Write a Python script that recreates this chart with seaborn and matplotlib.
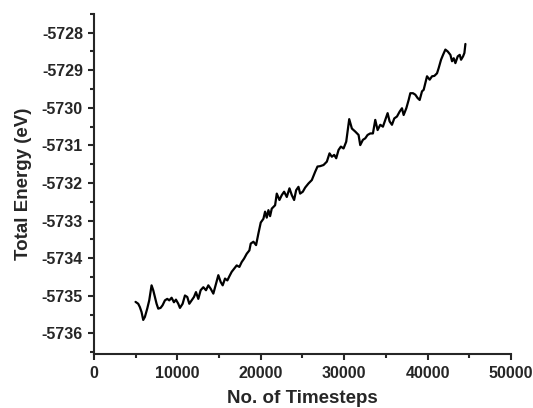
import numpy as np
import pandas as pd
import seaborn as sns
import matplotlib.pyplot as plt
from matplotlib.ticker import MultipleLocator

# values
timesteps = [
    5000, 5320, 5520, 5720, 5920, 6120, 6400, 6640, 6920, 7120,
    7320, 7520, 7720, 8000, 8240, 8520, 8800, 9040, 9320, 9600,
    9840, 10120, 10320, 10640, 10920, 11200, 11440, 11720, 12000, 12240,
    12520, 12800, 13120, 13440, 13720, 14000, 14320, 14640, 14920, 15200,
    15440, 15720, 16000, 16240, 16520, 16800, 17120, 17440, 17720, 18000,
    18320, 18640, 18800, 19120, 19440, 19720, 20000, 20320, 20520, 20720,
    20920, 21120, 21320, 21720, 21920, 22240, 22520, 22800, 23120, 23440,
    23720, 24000, 24240, 24520, 24720, 25040, 25320, 25720, 26120, 26520,
    26800, 27120, 27520, 27920, 28240, 28520, 28800, 29040, 29320, 29600,
    29920, 30240, 30600, 30920, 31320, 31720, 31920, 32240, 32520, 32800,
    33120, 33440, 33720, 34000, 34320, 34640, 34920, 35200, 35440, 35720,
    36000, 36320, 36640, 36920, 37120, 37440, 37720, 37920, 38240, 38520,
    38800, 39040, 39320, 39520, 39720, 39920, 40240, 40520, 40800, 41120,
    41320, 41600, 41840, 42120, 42400, 42720, 42920, 43120, 43320, 43600,
    43840, 44000, 44240, 44400, 44520,
]
energy = [
    -5735.16, -5735.21, -5735.30, -5735.43, -5735.64, -5735.56, -5735.34, -5735.12, -5734.72, -5734.85,
    -5735.03, -5735.21, -5735.34, -5735.32, -5735.25, -5735.12, -5735.08, -5735.12, -5735.05, -5735.17,
    -5735.10, -5735.21, -5735.32, -5735.21, -5734.99, -5735.03, -5735.21, -5735.12, -5735.03, -5734.90,
    -5735.08, -5734.85, -5734.77, -5734.85, -5734.72, -5734.81, -5734.94, -5734.68, -5734.45, -5734.63,
    -5734.72, -5734.54, -5734.59, -5734.48, -5734.36, -5734.28, -5734.19, -5734.23, -5734.10, -5734.01,
    -5733.88, -5733.79, -5733.61, -5733.56, -5733.65, -5733.34, -5733.05, -5732.95, -5732.76, -5732.92,
    -5732.72, -5732.88, -5732.68, -5732.59, -5732.28, -5732.45, -5732.32, -5732.23, -5732.37, -5732.14,
    -5732.32, -5732.45, -5732.19, -5732.10, -5732.28, -5732.23, -5732.12, -5732.01, -5731.92, -5731.70,
    -5731.56, -5731.55, -5731.52, -5731.43, -5731.21, -5731.30, -5731.25, -5731.34, -5731.12, -5731.03,
    -5731.08, -5730.90, -5730.30, -5730.55, -5730.63, -5730.72, -5730.99, -5730.85, -5730.81, -5730.72,
    -5730.68, -5730.68, -5730.32, -5730.59, -5730.45, -5730.50, -5730.32, -5730.14, -5730.36, -5730.45,
    -5730.28, -5730.23, -5730.10, -5730.01, -5730.19, -5730.01, -5729.79, -5729.61, -5729.61, -5729.65,
    -5729.74, -5729.79, -5729.56, -5729.52, -5729.34, -5729.16, -5729.25, -5729.16, -5729.15, -5729.08,
    -5728.94, -5728.72, -5728.59, -5728.45, -5728.50, -5728.59, -5728.76, -5728.68, -5728.81, -5728.63,
    -5728.59, -5728.72, -5728.63, -5728.54, -5728.30,
]

df = pd.DataFrame({'step': timesteps, 'E': energy})

sns.set_style('ticks')
plt.rcParams['font.family'] = ['Liberation Sans', 'DejaVu Sans']
plt.rcParams['font.weight'] = 'bold'
plt.rcParams['axes.unicode_minus'] = False

fig = plt.figure(figsize=(5.33, 4.08), dpi=100)
ax = fig.add_axes([0.176, 0.132, 0.783, 0.834])
sns.lineplot(data=df, x='step', y='E', color='black', linewidth=1.6, ax=ax)

ax.set_xlim(0, 50000)
ax.set_ylim(-5736.55, -5727.5)
ax.xaxis.set_major_locator(MultipleLocator(10000))
ax.xaxis.set_minor_locator(MultipleLocator(5000))
ax.yaxis.set_major_locator(MultipleLocator(1))
ax.yaxis.set_minor_locator(MultipleLocator(0.5))
ax.ticklabel_format(useOffset=False, style='plain')

for s in ['top', 'right']:
    ax.spines[s].set_visible(False)
for s in ['left', 'bottom']:
    ax.spines[s].set_linewidth(1.5)
ax.tick_params(which='major', length=4.3, width=1.5, labelsize=11.5)
ax.tick_params(axis='y', which='major', pad=3.5)
ax.tick_params(axis='x', which='major', pad=4.5)
ax.tick_params(which='minor', length=3, width=1.5)
for lab in ax.get_xticklabels() + ax.get_yticklabels():
    lab.set_fontweight('bold')

ax.set_xlabel('No. of Timesteps', fontsize=13.5, fontweight='bold', labelpad=6)
ax.set_ylabel('Total Energy (eV)', fontsize=13.5, fontweight='bold', labelpad=7)

fig.savefig('out.png', dpi=100)
